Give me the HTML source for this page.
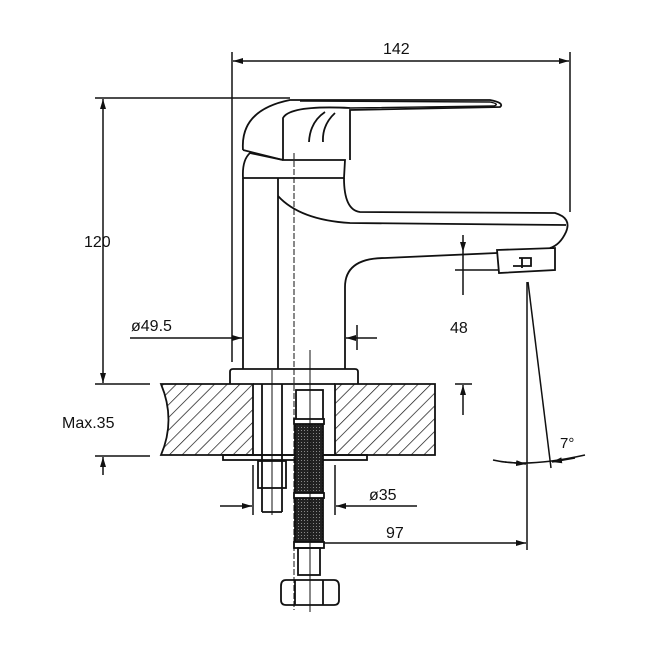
<!DOCTYPE html>
<html><head><meta charset="utf-8"><style>
html,body{margin:0;padding:0;background:#fff}
svg{display:block}
text{font-family:"Liberation Sans","DejaVu Sans",sans-serif;font-size:16px;fill:#111}
</style></head><body>
<svg width="650" height="650" viewBox="0 0 650 650" xmlns="http://www.w3.org/2000/svg">
<defs>
<pattern id="h" width="9" height="9" patternUnits="userSpaceOnUse" patternTransform="rotate(45)">
<line x1="0" y1="0" x2="0" y2="9" stroke="#111" stroke-width="1.4"/>
</pattern>
<pattern id="mesh" width="3" height="3" patternUnits="userSpaceOnUse">
<rect width="3" height="3" fill="#222"/><rect x="1" y="1" width="1" height="1" fill="#888"/>
</pattern>
<marker id="a" viewBox="0 0 10 6" refX="10" refY="3" markerWidth="10" markerHeight="6" orient="auto-start-reverse" markerUnits="userSpaceOnUse"><path d="M0,0L10,3L0,6z" fill="#111"/></marker>
</defs>
<g stroke="#111" stroke-width="1.8" fill="none">
<path d="M161,384 H253 V455 H161 Q176,420 161,384Z" fill="url(#h)"/>
<path d="M335,384 H435 V455 H335Z" fill="url(#h)"/>
<line x1="253" y1="384" x2="335" y2="384"/>
<line x1="253" y1="455" x2="335" y2="455"/>
<rect x="223" y="455" width="144" height="5"/>
<path d="M230,384 V372 Q230,369 233,369 H355 Q358,369 358,372 V384"/>
<line x1="243" y1="178" x2="243" y2="369"/>
<line x1="278" y1="178" x2="278" y2="369"/>
<line x1="345" y1="287" x2="345" y2="369"/>
<path d="M243,178 Q242,160 250,153 L283,160 L345,160 L344,178 Z"/>
<path d="M243,150 Q240,110 290,100 L490,100 Q505,103 500,107 L350,110 L350,160"/>
<path d="M300,101 L490,102 Q500,104 494,106 L350,108" stroke-width="1.4"/>
<path d="M283,160 L283,118 Q290,105 350,108"/>
<path d="M243,150 L283,160"/>
<path d="M309,142 Q310,122 325,112 M323,142 Q322,125 335,113"/>
<path d="M344,178 Q344,210 360,212 L555,213 Q572,218 566,232 Q560,245 550,248"/>
<path d="M278,196 Q300,220 350,223 L566,225"/>
<path d="M345,287 Q345,258 385,258 L497,253"/>
<path d="M497,250 L555,248 L555,270 L499,273 Z"/>
<path d="M513,266 h18 v-8 h-12 M522,258 v10"/>
<line x1="294" y1="153" x2="294" y2="610" stroke-dasharray="6,2" stroke-width="1"/>
<path d="M262,384 V512 M282,384 V512 M262,512 H282"/>
<rect x="258" y="461" width="28" height="27"/>
<line x1="272" y1="370" x2="272" y2="515" stroke-width="1"/>
<rect x="296" y="390" width="27" height="32"/>
<rect x="295" y="422" width="28" height="120" fill="url(#mesh)"/>
<rect x="294" y="419" width="30" height="5" fill="#fff"/>
<rect x="294" y="493" width="30" height="5" fill="#fff"/>
<rect x="294" y="542" width="30" height="6" fill="#fff"/>
<rect x="298" y="548" width="22" height="27"/>
<path d="M286,580 H334 Q339,580 339,586 V600 Q339,605 334,605 H286 Q281,605 281,600 V586 Q281,580 286,580Z"/>
<line x1="295" y1="580" x2="295" y2="605"/><line x1="323" y1="580" x2="323" y2="605"/>
<line x1="310" y1="350" x2="310" y2="612" stroke-width="1"/>
</g>
<g stroke="#111" stroke-width="1.5" fill="none">
<line x1="232" y1="52" x2="232" y2="362"/>
<line x1="570" y1="52" x2="570" y2="212"/>
<line x1="233" y1="61" x2="569" y2="61" marker-start="url(#a)" marker-end="url(#a)"/>
<line x1="95" y1="98" x2="290" y2="98"/>
<line x1="95" y1="384" x2="150" y2="384"/>
<line x1="103" y1="99" x2="103" y2="383" marker-start="url(#a)" marker-end="url(#a)"/>
<line x1="95" y1="456" x2="150" y2="456"/>
<line x1="103" y1="475" x2="103" y2="457" marker-end="url(#a)"/>
<line x1="130" y1="338" x2="242" y2="338" marker-end="url(#a)"/>
<line x1="377" y1="338" x2="346" y2="338" marker-end="url(#a)"/>
<line x1="357" y1="325" x2="357" y2="350"/>
<line x1="463" y1="235" x2="463" y2="252" marker-end="url(#a)"/>
<line x1="463" y1="252" x2="463" y2="295"/>
<line x1="455" y1="270" x2="498" y2="270"/>
<line x1="463" y1="415" x2="463" y2="385" marker-end="url(#a)"/>
<line x1="455" y1="384" x2="472" y2="384"/>
<line x1="527" y1="282" x2="527" y2="550"/>
<line x1="528" y1="282" x2="551" y2="468"/>
<path d="M493,460 Q527,468 585,455"/>
<line x1="505" y1="462" x2="526" y2="464" marker-end="url(#a)"/>
<line x1="575" y1="458" x2="552" y2="462" marker-end="url(#a)"/>
<line x1="253" y1="465" x2="253" y2="515"/>
<line x1="335" y1="465" x2="335" y2="515"/>
<line x1="220" y1="506" x2="252" y2="506" marker-end="url(#a)"/>
<line x1="417" y1="506" x2="336" y2="506" marker-end="url(#a)"/>
<line x1="324" y1="543" x2="526" y2="543" marker-end="url(#a)"/>
</g>
<text x="383" y="54">142</text>
<text x="84" y="247">120</text>
<text x="131" y="331">ø49.5</text>
<text x="450" y="333">48</text>
<text x="62" y="428">Max.35</text>
<text x="369" y="500">ø35</text>
<text x="386" y="538">97</text>
<text x="560" y="448" style="font-size:15px">7°</text>
</svg>
</body></html>
